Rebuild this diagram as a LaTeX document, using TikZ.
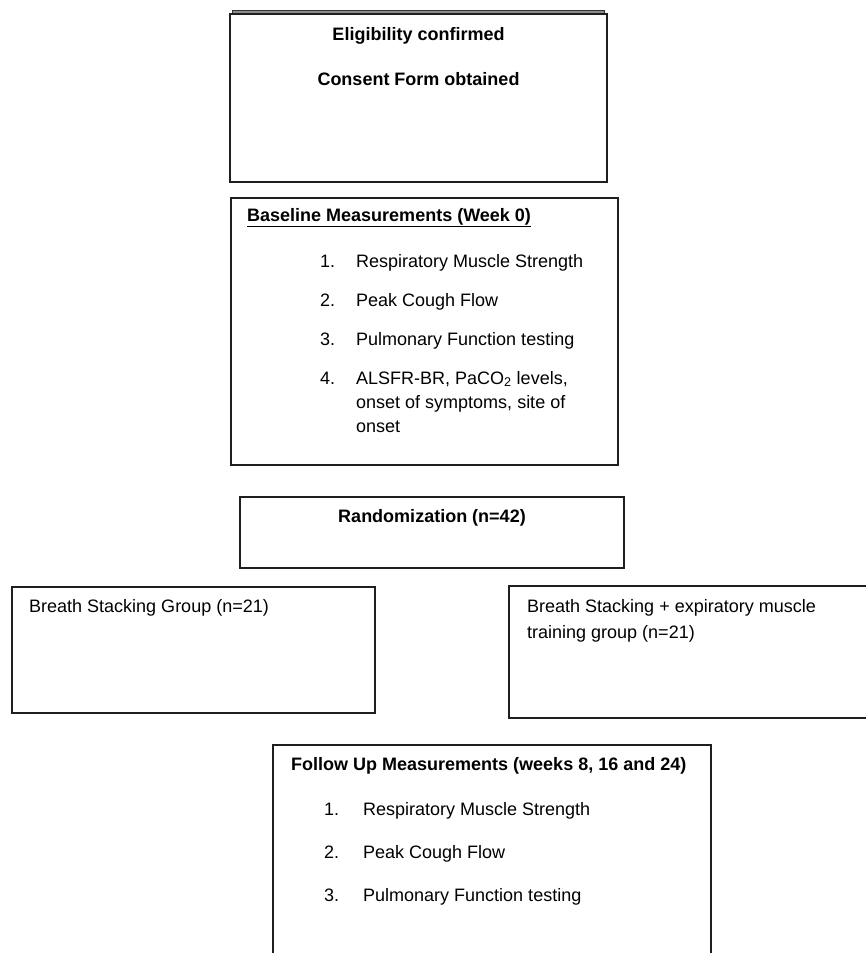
\documentclass[tikz,border=0pt]{standalone}
\usepackage{fontspec}
\setmainfont{Liberation Sans}
\begin{document}
\begin{tikzpicture}[x=1pt,y=-1pt,
  boxline/.style={draw=black!88,line width=1.6pt},
  txt/.style={inner sep=0pt,font=\fontsize{18}{21}\selectfont},
  btxt/.style={inner sep=0pt,font=\fontsize{18}{21}\selectfont\bfseries}]
\useasboundingbox (0,0) rectangle (866,953);
\fill[white] (0,0) rectangle (866,953);
% top box with stacked top edge
\draw[draw=black!80,fill=black!45,line width=0.8pt] (232,10.5) rectangle (604,14);
\draw[boxline] (230,14) rectangle (607,182);
\node[btxt,anchor=base] (elig) at (418.5,40) {Eligibility confirmed};
\node[btxt,anchor=base] (consent) at (418.5,85) {Consent Form obtained};
% baseline box
\draw[boxline] (231,198) rectangle (618,465);
\node[btxt,anchor=base west] (base) at (247,221) {\underline{Baseline Measurements (Week 0)}};
\node[txt,anchor=base west] (b1n) at (320,267) {1.};
\node[txt,anchor=base west] (b1) at (356,267) {Respiratory Muscle Strength};
\node[txt,anchor=base west] (b2n) at (320,306) {2.};
\node[txt,anchor=base west] (b2) at (356,306) {Peak Cough Flow};
\node[txt,anchor=base west] (b3n) at (320,345) {3.};
\node[txt,anchor=base west] (b3) at (356,345) {Pulmonary Function testing};
\node[txt,anchor=base west] (b4n) at (320,384) {4.};
\node[txt,anchor=base west] (b4) at (356,384) {ALSFR-BR, PaCO\textsubscript{2} levels,};
\node[txt,anchor=base west] (b4b) at (356,408) {onset of symptoms, site of};
\node[txt,anchor=base west] (b4c) at (356,432) {onset};
% randomization
\draw[boxline] (240,497) rectangle (624,568);
\node[btxt,anchor=base] (rand) at (432,522) {Randomization (n=42)};
% groups
\draw[boxline] (12,587) rectangle (375,713);
\node[txt,anchor=base west] (bsg) at (29,612) {Breath Stacking Group (n=21)};
\draw[boxline] (509,586) rectangle (880,718);
\node[txt,anchor=base west] (bse) at (527,612) {Breath Stacking + expiratory muscle};
\node[txt,anchor=base west] (bse2) at (527,638) {training group (n=21)};
% follow up
\draw[boxline] (273,990) -- (273,745) -- (711,745) -- (711,990);
\node[btxt,anchor=base west] (fu) at (291,770) {Follow Up Measurements (weeks 8, 16 and 24)};
\node[txt,anchor=base west] (f1n) at (324,815) {1.};
\node[txt,anchor=base west] (f1) at (363,815) {Respiratory Muscle Strength};
\node[txt,anchor=base west] (f2n) at (324,858) {2.};
\node[txt,anchor=base west] (f2) at (363,858) {Peak Cough Flow};
\node[txt,anchor=base west] (f3n) at (324,901) {3.};
\node[txt,anchor=base west] (f3) at (363,901) {Pulmonary Function testing};
\end{tikzpicture}
\end{document}
